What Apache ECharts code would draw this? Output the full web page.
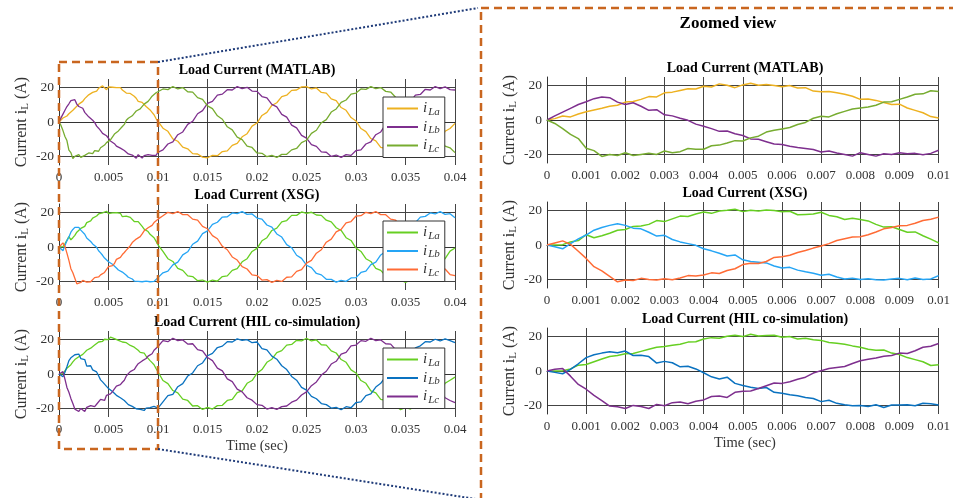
<!DOCTYPE html>
<html>
<head>
<meta charset="utf-8">
<title>Load Current</title>
<script src="https://cdn.jsdelivr.net/npm/echarts@6/dist/echarts.min.js"></script>
<style>
  html, body { margin: 0; padding: 0; background: #fff; }
  #chart { width: 953px; height: 498px; }
</style>
</head>
<body>
<div id="chart"></div>
<script>
// sampling grid: fine steps for the zoomed window 0..0.01, coarser after that
var tZoom = [];
for (var i = 0; i <= 50; i++) tZoom.push(+(i * 0.0002).toFixed(4));
var tRest = [];
for (var j = 0; j < 60; j++) tRest.push(+(0.0105 + j * 0.0005).toFixed(4));

var phaseNames = ['La', 'Lb', 'Lc'];
var xTicksLeft = 0.005;
var xTicksRight = 0.001;
var yTickValues = [-20, 0, 20];

// MATLAB
var matlabLaZoom = [0, 0.8, 2.3, 1.8, 3.5, 4.8, 5.8, 6.8, 8.0, 8.6, 10.4, 10.8, 12.0, 13.6, 13.4, 15.8, 16.2, 17.2, 18.2, 18.0, 19.6, 19.2, 21.0, 20.2, 18.8, 20.4, 21.4, 20.2, 20.6, 20.0, 19.4, 20.0, 18.6, 18.8, 16.8, 16.4, 16.6, 15.8, 15.0, 13.8, 12.0, 12.2, 11.4, 10.2, 9.0, 9.2, 7.0, 5.6, 4.2, 2.0, 1.2];
var matlabLbZoom = [0, 2.4, 4.6, 6.8, 9.0, 10.6, 12.4, 13.4, 13.0, 10.4, 9.0, 10.0, 8.0, 5.6, 6.0, 3.0, 2.4, 1.0, -0.2, -2.4, -3.6, -5.0, -6.6, -6.4, -8.0, -9.0, -11.0, -11.2, -12.6, -14.0, -14.2, -15.2, -16.0, -16.6, -17.2, -18.6, -18.0, -19.2, -20.0, -21.0, -19.0, -20.0, -21.0, -19.6, -20.0, -19.0, -19.6, -19.4, -20.2, -19.4, -17.6];
var matlabLcZoom = [0, -2.0, -5.0, -8.4, -10.8, -16.4, -17.8, -21.2, -20.0, -20.6, -19.0, -20.6, -20.0, -19.4, -20.0, -18.0, -19.0, -18.4, -16.6, -17.0, -17.0, -15.0, -14.6, -13.4, -12.0, -12.2, -10.4, -9.4, -7.0, -6.0, -5.2, -4.4, -2.6, -1.4, 1.0, 2.2, 1.8, 3.6, 5.0, 6.4, 7.0, 7.6, 8.6, 10.4, 10.6, 12.0, 13.4, 15.0, 15.2, 17.0, 16.6];
var matlabLaRest = [-3.6, -5.4, -9.8, -11.2, -14.6, -15.6, -18.4, -18.6, -20.4, -20.8, -19.4, -19.6, -17.2, -16.8, -13.6, -12.4, -8.6, -6.8, -2.4, -0.6, 3.8, 5.6, 9.6, 11.2, 14.8, 15.6, 18.4, 18.6, 20.4, 20.6, 19.2, 19.8, 17.2, 16.8, 13.4, 12.4, 8.4, 6.8, 2.6, 0.6, -3.8, -5.6, -9.6, -11.0, -14.8, -15.4, -18.4, -18.8, -20.6, -19.4, -20.4, -18.4, -18.2, -15.6, -14.8, -11.0, -9.6, -5.4, -3.8, -0.8];
var matlabLbRest = [-16.2, -12.8, -11.6, -7.4, -5.8, -1.4, 0.4, 4.8, 6.6, 10.8, 12.0, 15.6, 16.2, 18.8, 18.6, 20.6, 19.4, 20.2, 18.0, 17.8, 14.8, 14.0, 10.2, 8.8, 4.4, 2.8, -1.8, -3.4, -7.8, -9.4, -13.2, -14.2, -17.4, -17.6, -20.0, -19.2, -20.6, -19.0, -19.4, -16.6, -16.2, -12.8, -11.6, -7.4, -5.8, -1.4, 0.2, 4.8, 6.4, 10.8, 11.8, 15.6, 16.0, 19.0, 18.6, 20.6, 19.4, 20.4, 18.8, 18.6];
var matlabLcRest = [19.2, 18.8, 20.6, 19.2, 20.0, 17.6, 17.4, 14.2, 13.2, 9.4, 7.8, 3.6, 1.6, -2.8, -4.6, -8.8, -10.2, -14.0, -14.8, -18.0, -18.2, -20.2, -19.4, -20.6, -18.8, -18.8, -16.2, -15.4, -12.0, -10.6, -6.6, -4.8, -0.4, 1.4, 5.8, 7.6, 11.4, 12.8, 16.2, 16.8, 19.2, 19.0, 20.6, 19.4, 20.0, 17.8, 17.4, 14.4, 13.2, 9.4, 7.8, 3.6, 1.6, -2.6, -4.6, -8.8, -10.2, -14.0, -15.0, -17.8];

// XSG
var xsgLaZoom = [0, 0, 0.2, 1.8, 2.6, 6.0, 4.2, 5.4, 6.8, 8.6, 9.0, 10.8, 11.0, 12.0, 14.2, 13.6, 15.2, 16.8, 16.6, 18.0, 19.2, 18.4, 19.8, 20.2, 20.8, 19.4, 20.2, 19.8, 20.4, 20.0, 19.4, 19.6, 17.6, 17.8, 18.0, 19.0, 17.2, 16.4, 14.8, 15.6, 14.8, 14.0, 12.0, 10.4, 10.6, 9.0, 7.4, 7.6, 5.4, 3.4, 1.2];
var xsgLbZoom = [0, -1.0, -2.2, 0.8, 3.6, 5.8, 8.6, 10.2, 11.4, 12.4, 11.4, 9.8, 9.4, 7.4, 5.2, 5.6, 3.2, 1.8, 0.8, -0.2, -2.2, -3.4, -4.8, -6.4, -5.8, -8.6, -9.6, -10.0, -10.4, -12.2, -13.4, -13.0, -14.6, -15.6, -16.4, -17.6, -17.0, -18.6, -19.8, -19.4, -20.0, -19.6, -20.2, -20.4, -19.8, -19.4, -20.2, -19.2, -20.0, -19.8, -17.8];
var xsgLcZoom = [0, 1.2, 2.4, 0.4, -3.6, -7.8, -12.6, -15.0, -18.2, -21.4, -20.4, -20.6, -19.4, -20.0, -20.4, -19.6, -20.2, -19.2, -17.8, -18.0, -17.4, -16.2, -16.6, -14.8, -13.8, -11.4, -10.6, -10.8, -9.6, -7.2, -6.8, -6.0, -4.4, -3.2, -1.8, -0.6, 0.8, 2.6, 3.6, 4.6, 4.8, 6.0, 7.6, 9.4, 10.2, 11.2, 11.4, 12.6, 14.2, 15.0, 16.2];
var xsgLaRest = [-2.6, -6.8, -8.4, -12.4, -13.6, -16.8, -17.2, -19.6, -19.2, -20.4, -19.2, -19.8, -17.2, -16.8, -13.6, -12.6, -8.6, -6.8, -2.6, -0.8, 3.6, 5.4, 9.6, 11.0, 14.6, 15.4, 18.4, 18.4, 20.4, 19.6, 20.2, 18.6, 18.4, 15.6, 14.6, 11.2, 9.6, 5.4, 3.8, -0.6, -2.6, -6.8, -8.4, -12.4, -13.6, -16.8, -17.4, -19.6, -19.2, -20.6, -19.2, -19.8, -17.2, -16.8, -13.4, -12.6, -8.4, -6.8, -2.4, -0.6];
var xsgLbRest = [-15.0, -14.0, -10.4, -8.8, -4.6, -2.8, 1.6, 3.4, 7.8, 9.4, 13.2, 14.4, 17.4, 17.6, 19.8, 19.4, 20.6, 19.0, 19.2, 16.8, 16.2, 12.8, 11.6, 7.6, 5.8, 1.4, -0.4, -4.8, -6.6, -10.6, -12.0, -15.4, -16.2, -18.8, -18.8, -20.4, -19.4, -20.0, -18.0, -17.8, -14.8, -14.0, -10.2, -8.8, -4.6, -2.6, 1.8, 3.4, 7.8, 9.2, 13.2, 14.2, 17.4, 17.8, 19.8, 19.2, 20.6, 19.0, 19.4, 17.0];
var xsgLcRest = [18.2, 20.2, 19.4, 20.6, 18.8, 18.8, 16.2, 15.6, 12.0, 10.6, 6.6, 4.8, 0.4, -1.6, -5.8, -7.6, -11.4, -12.8, -16.2, -16.6, -19.2, -19.0, -20.6, -19.4, -20.0, -17.6, -17.4, -14.2, -13.2, -9.4, -7.8, -3.6, -1.6, 2.8, 4.6, 8.8, 10.2, 14.0, 14.8, 18.0, 18.2, 20.2, 19.4, 20.6, 18.8, 18.8, 16.2, 15.6, 12.0, 10.6, 6.6, 4.8, 0.6, -1.6, -5.8, -7.6, -11.4, -12.8, -16.0, -16.6];

// HIL co-simulation
var hilLaZoom = [0, 0, 0.2, 1.2, 3.4, 3.8, 5.4, 7.0, 8.4, 9.0, 10.0, 10.2, 11.4, 12.6, 13.8, 14.2, 15.0, 15.6, 16.8, 17.0, 18.6, 19.4, 19.0, 20.2, 20.8, 20.0, 21.4, 20.4, 20.6, 20.8, 19.6, 20.0, 18.6, 19.0, 18.2, 17.8, 16.6, 16.2, 15.6, 14.6, 13.8, 12.6, 12.0, 12.2, 10.4, 9.6, 7.8, 6.6, 5.4, 3.2, 3.6];
var hilLbZoom = [0, -0.8, -1.6, 1.0, 4.2, 7.8, 9.4, 10.4, 11.2, 10.6, 11.6, 9.0, 9.2, 8.4, 4.6, 5.6, 4.8, 2.4, 2.8, 1.2, -1.0, -3.4, -4.6, -3.6, -7.2, -8.4, -9.4, -10.2, -9.6, -12.4, -13.0, -13.8, -14.4, -15.4, -16.0, -17.8, -17.0, -18.8, -19.6, -20.2, -20.0, -20.6, -19.6, -21.2, -19.8, -19.8, -19.6, -20.2, -18.8, -19.0, -19.8];
var hilLcZoom = [0, 1.0, 1.4, -3.0, -7.8, -10.6, -14.2, -17.2, -20.4, -20.8, -21.8, -20.0, -20.6, -21.8, -19.4, -20.2, -18.4, -18.0, -19.0, -17.6, -16.8, -14.8, -14.6, -15.4, -12.4, -11.8, -11.6, -10.2, -8.6, -7.0, -7.2, -6.2, -4.8, -3.6, -1.2, 0.2, 1.4, 2.0, 2.6, 4.4, 6.0, 6.8, 7.6, 8.6, 9.0, 10.4, 10.2, 11.8, 13.8, 14.4, 16.0];
var hilLaRest = [-3.8, -5.6, -9.6, -11.0, -14.6, -15.4, -18.6, -18.4, -20.6, -19.4, -20.4, -18.4, -18.2, -15.4, -14.8, -10.8, -9.8, -5.4, -3.8, 0.4, 2.6, 6.8, 8.6, 12.4, 13.6, 16.8, 17.2, 19.6, 19.2, 20.8, 19.2, 19.8, 17.0, 16.8, 13.4, 12.2, 8.4, 6.8, 2.4, 0.6, -3.8, -5.4, -9.8, -11.0, -14.8, -15.4, -18.6, -18.4, -20.8, -19.4, -20.4, -18.4, -18.0, -15.4, -14.8, -10.8, -9.6, -5.4, -3.6, -1.8];
var hilLbRest = [-16.2, -12.6, -11.8, -7.4, -5.6, -1.2, 0.6, 4.8, 6.4, 10.6, 12.0, 15.4, 16.2, 18.8, 18.6, 20.4, 19.6, 20.0, 18.2, 18.6, 14.8, 14.0, 10.4, 8.6, 4.8, 2.6, -1.4, -3.6, -7.8, -9.4, -13.0, -14.4, -17.2, -17.8, -19.8, -19.4, -20.8, -19.0, -19.6, -16.6, -16.2, -12.6, -11.6, -7.6, -5.4, -1.4, 0.8, 4.6, 6.8, 10.4, 12.2, 15.2, 16.4, 18.8, 18.6, 20.2, 19.2, 20.4, 19.4, 18.2];
var hilLcRest = [19.4, 18.8, 20.8, 19.4, 19.8, 17.4, 17.6, 14.2, 13.4, 9.6, 7.8, 3.4, 1.8, -2.8, -4.4, -8.8, -10.4, -13.8, -15.2, -17.8, -18.2, -20.4, -19.6, -20.6, -19.0, -18.6, -16.4, -15.2, -12.2, -10.4, -6.8, -4.6, -0.6, 1.6, 5.8, 7.4, 11.6, 12.6, 16.4, 16.8, 19.4, 19.0, 20.8, 19.4, 19.8, 17.6, 17.4, 14.2, 13.6, 9.4, 7.8, 3.4, 1.8, -2.8, -4.4, -8.8, -10.4, -13.8, -15.4, -16.6];

var panels = [
  { key: 'MATLAB', title: 'Load Current (MATLAB)',
    colors: ['#EDB120', '#7E2F8E', '#77AC30'],
    zoom: [matlabLaZoom, matlabLbZoom, matlabLcZoom], rest: [matlabLaRest, matlabLbRest, matlabLcRest] },
  { key: 'XSG', title: 'Load Current (XSG)',
    colors: ['#66CF22', '#25A5F5', '#FF6B35'],
    zoom: [xsgLaZoom, xsgLbZoom, xsgLcZoom], rest: [xsgLaRest, xsgLbRest, xsgLcRest] },
  { key: 'HIL', title: 'Load Current (HIL co-simulation)',
    colors: ['#66CF22', '#0A72C0', '#7E2F8E'],
    zoom: [hilLaZoom, hilLbZoom, hilLcZoom], rest: [hilLaRest, hilLbRest, hilLcRest] }
];

// layout (px)
var leftX = 59, rightX = 547, plotW = 396, plotH = 86;
var leftTops = [79, 204, 331];
var rightTops = [77, 202, 328];
var legendTops = [97, 221, 348];
var serif = 'Liberation Serif';
var textColor = '#333';

function pairs(xs, ys) {
  return xs.map(function (x, k) { return [x, ys[k]]; });
}

var grids = [], xAxes = [], yAxes = [], series = [], legends = [], texts = [];

panels.forEach(function (p, pi) {
  [[leftX, leftTops[pi], 0.04, xTicksLeft], [rightX, rightTops[pi], 0.01, xTicksRight]].forEach(function (g, side) {
    var gi = grids.length;
    grids.push({ left: g[0], top: g[1], width: plotW, height: plotH });
    xAxes.push({
      type: 'value', gridIndex: gi, min: 0, max: g[2], interval: g[3],
      axisLine: { lineStyle: { color: '#333', width: 1 } },
      axisTick: { show: false },
      axisLabel: {
        fontFamily: serif, fontSize: 13, color: textColor, margin: 6,
        formatter: function (v) { return String(+v.toFixed(3)); }
      },
      splitLine: { show: true, lineStyle: { color: '#444', width: 1 } }
    });
    yAxes.push({
      type: 'value', gridIndex: gi, min: -25, max: 25,
      name: '{a|Current i}{s|L}{a| (A)}',
      nameLocation: 'middle', nameRotate: 90, nameGap: 28,
      nameTextStyle: {
        rich: {
          a: { fontFamily: serif, fontSize: 16, color: textColor },
          s: { fontFamily: serif, fontSize: 11, color: textColor, padding: [8, 0, 0, 0] }
        }
      },
      axisLine: { show: true, lineStyle: { color: '#333', width: 1 } },
      axisTick: { show: false, customValues: yTickValues },
      axisLabel: { fontFamily: serif, fontSize: 13.5, color: textColor, margin: 5, customValues: yTickValues },
      splitLine: { show: true, lineStyle: { color: '#444', width: 1 } }
    });
    var xs = side === 0 ? tZoom.concat(tRest) : tZoom;
    phaseNames.forEach(function (ph, k) {
      var ys = side === 0 ? p.zoom[k].concat(p.rest[k]) : p.zoom[k];
      series.push({
        name: side === 0 ? p.key + '_' + ph : p.key + '_' + ph + '_zoom',
        type: 'line', xAxisIndex: gi, yAxisIndex: gi,
        symbol: 'none', data: pairs(xs, ys),
        lineStyle: { color: p.colors[k], width: side === 0 ? 1.3 : 1.5 },
        itemStyle: { color: p.colors[k] }
      });
    });
    texts.push({
      type: 'text', x: g[0] + plotW / 2, y: g[1] - 9,
      style: { text: p.title, fontFamily: serif, fontWeight: 'bold', fontSize: 14, fill: '#000',
               align: 'center', verticalAlign: 'middle' }
    });
  });
  legends.push({
    orient: 'vertical', left: 383, top: legendTops[pi],
    data: phaseNames.map(function (ph) { return p.key + '_' + ph; }),
    icon: 'rect', itemWidth: 31, itemHeight: 2, itemGap: 2,
    backgroundColor: '#fff', borderColor: '#333', borderWidth: 1, borderRadius: 0,
    padding: [4, 5, 3, 4],
    selectedMode: false,
    formatter: function (name) { return '{i|i}{s|' + name.split('_')[1] + '}'; },
    textStyle: {
      rich: {
        i: { fontFamily: serif, fontStyle: 'italic', fontSize: 15, color: textColor },
        s: { fontFamily: serif, fontStyle: 'italic', fontSize: 11, color: textColor, padding: [7, 0, 0, 1] }
      }
    }
  });
});

texts.push({
  type: 'text', x: leftX + plotW / 2, y: 446,
  style: { text: 'Time (sec)', fontFamily: serif, fontSize: 14.5, fill: textColor, align: 'center', verticalAlign: 'middle' }
});
texts.push({
  type: 'text', x: rightX + plotW / 2, y: 443,
  style: { text: 'Time (sec)', fontFamily: serif, fontSize: 14.5, fill: textColor, align: 'center', verticalAlign: 'middle' }
});
texts.push({
  type: 'text', x: 728, y: 24,
  style: { text: 'Zoomed view', fontFamily: serif, fontWeight: 'bold', fontSize: 17, fill: '#000', align: 'center', verticalAlign: 'middle' }
});

var chart = echarts.init(document.getElementById('chart'));
chart.setOption({
  backgroundColor: '#fff',
  animation: false,
  grid: grids,
  xAxis: xAxes,
  yAxis: yAxes,
  legend: legends,
  series: series,
  graphic: texts
});

// zoom frame: left edge at t=0, right edge at t=0.01 of the left plots
var boxL = chart.convertToPixel({ xAxisIndex: 0 }, 0);
var boxR = chart.convertToPixel({ xAxisIndex: 0 }, 0.01);
var dashOrange = { stroke: '#C9661F', lineWidth: 2.5, lineDash: [8, 5], fill: null };
var dotBlue = { stroke: '#1E3A78', lineWidth: 2, lineDash: [2, 2] };
chart.setOption({
  graphic: texts.concat([
    { type: 'rect', z: 100, shape: { x: boxL, y: 62, width: boxR - boxL, height: 387 }, style: dashOrange },
    { type: 'rect', z: 100, shape: { x: 481, y: 8, width: 500, height: 520 }, style: dashOrange },
    { type: 'line', z: 100, shape: { x1: boxR, y1: 62, x2: 478, y2: 8 }, style: dotBlue },
    { type: 'line', z: 100, shape: { x1: boxR, y1: 449, x2: 482, y2: 500 }, style: dotBlue }
  ])
});

window.addEventListener('resize', function () {
  chart.resize();
});
</script>
</body>
</html>
